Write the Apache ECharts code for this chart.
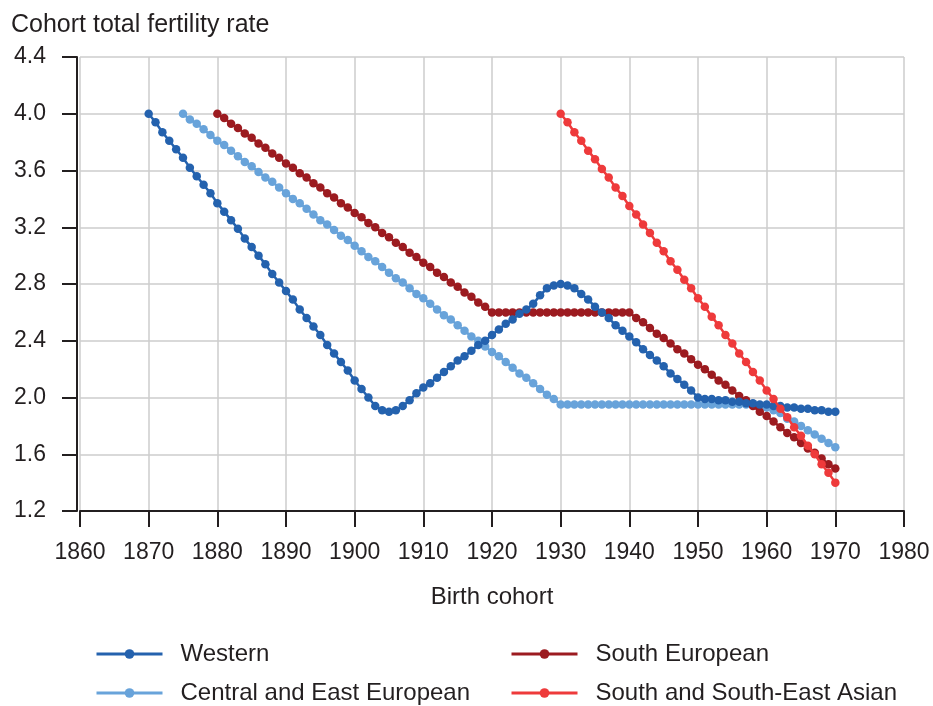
<!DOCTYPE html>
<html>
<head>
<meta charset="utf-8">
<script src="https://cdn.jsdelivr.net/npm/echarts@6/dist/echarts.min.js"></script>
<style>
html,body{margin:0;padding:0;background:#fff;}
#chart{width:933px;height:706px;}
</style>
</head>
<body>
<div id="chart"></div>
<script>
const xTicks = [1860, 1870, 1880, 1890, 1900, 1910, 1920, 1930, 1940, 1950, 1960, 1970, 1980];
const yTicks = [1.2, 1.6, 2.0, 2.4, 2.8, 3.2, 3.6, 4.0, 4.4];

const seriesNames = ['Western', 'Central and East European', 'South European', 'South and South-East Asian'];

const westernStart = 1870;
const westernValues = [
  4.00, 3.94, 3.87, 3.81, 3.75, 3.69, 3.62, 3.56, 3.50, 3.44,
  3.37, 3.31, 3.25, 3.19, 3.12, 3.06, 3.00, 2.94, 2.87, 2.81,
  2.75, 2.69, 2.62, 2.56, 2.50, 2.44, 2.37, 2.31, 2.25, 2.19,
  2.12, 2.06, 2.00, 1.94, 1.91, 1.90, 1.91, 1.94, 1.98, 2.03,
  2.07, 2.10, 2.14, 2.18, 2.22, 2.26, 2.29, 2.33, 2.37, 2.40,
  2.44, 2.48, 2.52, 2.55, 2.59, 2.62, 2.66, 2.72, 2.77, 2.79,
  2.80, 2.79, 2.77, 2.73, 2.69, 2.64, 2.60, 2.56, 2.51, 2.47,
  2.43, 2.39, 2.34, 2.30, 2.26, 2.22, 2.17, 2.13, 2.09, 2.05,
  2.00, 1.99, 1.99, 1.98, 1.98, 1.97, 1.97, 1.96, 1.96, 1.95,
  1.95, 1.94, 1.94, 1.93, 1.93, 1.92, 1.92, 1.91, 1.91, 1.90,
  1.90
];

const centralStart = 1875;
const centralValues = [
  4.00, 3.96, 3.93, 3.89, 3.85, 3.81, 3.78, 3.74, 3.70, 3.66,
  3.63, 3.59, 3.55, 3.52, 3.48, 3.44, 3.40, 3.37, 3.33, 3.29,
  3.25, 3.22, 3.18, 3.14, 3.11, 3.07, 3.03, 2.99, 2.96, 2.92,
  2.88, 2.84, 2.81, 2.77, 2.73, 2.70, 2.66, 2.62, 2.58, 2.55,
  2.51, 2.47, 2.43, 2.40, 2.36, 2.32, 2.29, 2.25, 2.21, 2.17,
  2.14, 2.10, 2.06, 2.02, 1.99, 1.95,
  1.95, 1.95, 1.95, 1.95, 1.95, 1.95, 1.95, 1.95, 1.95, 1.95,
  1.95, 1.95, 1.95, 1.95, 1.95, 1.95, 1.95, 1.95, 1.95, 1.95,
  1.95, 1.95, 1.95, 1.95, 1.95, 1.95, 1.95, 1.95,
  1.94, 1.93, 1.91, 1.89, 1.85, 1.83, 1.80, 1.77, 1.74, 1.71,
  1.68, 1.65
];

const southEuropeanStart = 1880;
const southEuropeanValues = [
  4.00, 3.97, 3.93, 3.90, 3.86, 3.83, 3.79, 3.76, 3.72, 3.69,
  3.65, 3.62, 3.58, 3.55, 3.51, 3.48, 3.44, 3.41, 3.37, 3.34,
  3.30, 3.27, 3.23, 3.20, 3.16, 3.13, 3.09, 3.06, 3.02, 2.99,
  2.95, 2.92, 2.88, 2.85, 2.81, 2.78, 2.74, 2.71, 2.67, 2.64,
  2.60,
  2.60, 2.60, 2.60, 2.60, 2.60, 2.60, 2.60, 2.60, 2.60, 2.60,
  2.60, 2.60, 2.60, 2.60, 2.60, 2.60, 2.60, 2.60, 2.60, 2.60,
  2.56, 2.53, 2.49, 2.45, 2.42, 2.38, 2.34, 2.31, 2.27, 2.23,
  2.20, 2.16, 2.12, 2.09, 2.05, 2.01, 1.98, 1.94, 1.90, 1.87,
  1.83, 1.79, 1.75, 1.72, 1.68, 1.64, 1.61, 1.57, 1.53, 1.50
];

const asianStart = 1930;
const asianValues = [
  4.00, 3.94, 3.87, 3.81, 3.74, 3.68, 3.61, 3.55, 3.48, 3.42,
  3.35, 3.29, 3.22, 3.16, 3.09, 3.03, 2.96, 2.90, 2.83, 2.77,
  2.70, 2.64, 2.57, 2.51, 2.44, 2.38, 2.31, 2.25, 2.18, 2.12,
  2.05, 1.99, 1.92, 1.86, 1.79, 1.73, 1.66, 1.60, 1.53, 1.47,
  1.40
];

const colors = {
  'Western': '#2462ae',
  'Central and East European': '#68a3da',
  'South European': '#9c1b20',
  'South and South-East Asian': '#ee3a3b'
};

function pairs(start, vals) {
  return vals.map((v, i) => [start + i, v]);
}

const FONT = "'Liberation Sans', Arial, Helvetica, sans-serif";
const TXT = '#231f20';

function lineSeries(name, start, vals, z) {
  return {
    name: name,
    type: 'line',
    data: pairs(start, vals),
    symbol: 'circle',
    symbolSize: 8.5,
    showSymbol: true,
    z: z,
    lineStyle: { color: colors[name], width: 2.5 },
    itemStyle: { color: colors[name] },
    emphasis: { disabled: true },
    animation: false
  };
}

function legendItem(name, left, top) {
  return {
    data: [name],
    left: left,
    top: top,
    padding: 0,
    itemWidth: 66,
    itemHeight: 12,
    selectedMode: false,
    itemStyle: {},
    lineStyle: { width: 3 },
    textStyle: { fontFamily: FONT, fontSize: 24, color: TXT, padding: [0, 0, 0, 13] }
  };
}

const chart = echarts.init(document.getElementById('chart'), null, { renderer: 'canvas' });
chart.setOption({
  backgroundColor: '#fff',
  animation: false,
  textStyle: { fontFamily: FONT, color: TXT },
  title: {
    text: 'Cohort total fertility rate',
    left: 11,
    top: 13,
    padding: 0,
    textStyle: { fontFamily: FONT, fontSize: 25, fontWeight: 'normal', color: TXT }
  },
  legend: [
    legendItem(seriesNames[0], 95, 642),
    legendItem(seriesNames[1], 95, 681),
    legendItem(seriesNames[2], 510, 642),
    legendItem(seriesNames[3], 510, 681)
  ],
  grid: { left: 80, right: 29, top: 57, bottom: 195, containLabel: false },
  xAxis: {
    type: 'value',
    min: xTicks[0],
    max: xTicks[xTicks.length - 1],
    interval: 10,
    name: 'Birth cohort',
    nameLocation: 'middle',
    nameGap: 74,
    nameTextStyle: { fontFamily: FONT, fontSize: 24, color: TXT },
    axisLine: { onZero: false, lineStyle: { color: '#231f20', width: 2 } },
    axisTick: { show: true, length: 16, lineStyle: { color: '#231f20', width: 2 } },
    axisLabel: { fontFamily: FONT, fontSize: 23, color: TXT, margin: 30, formatter: v => String(v) },
    splitLine: { show: true, lineStyle: { color: '#cccccc', width: 1.5 } }
  },
  yAxis: {
    type: 'value',
    min: yTicks[0],
    max: yTicks[yTicks.length - 1],
    interval: 0.4,
    offset: 3,
    axisLine: { show: true, onZero: false, lineStyle: { color: '#231f20', width: 2 } },
    axisTick: { show: true, length: 15, lineStyle: { color: '#231f20', width: 2 } },
    axisLabel: { fontFamily: FONT, fontSize: 23, color: TXT, margin: 31, formatter: v => v.toFixed(1) },
    splitLine: { show: true, lineStyle: { color: '#cccccc', width: 1.5 } }
  },
  series: [
    lineSeries(seriesNames[1], centralStart, centralValues, 2),
    lineSeries(seriesNames[2], southEuropeanStart, southEuropeanValues, 3),
    lineSeries(seriesNames[0], westernStart, westernValues, 4),
    lineSeries(seriesNames[3], asianStart, asianValues, 5)
  ]
});
</script>
</body>
</html>
